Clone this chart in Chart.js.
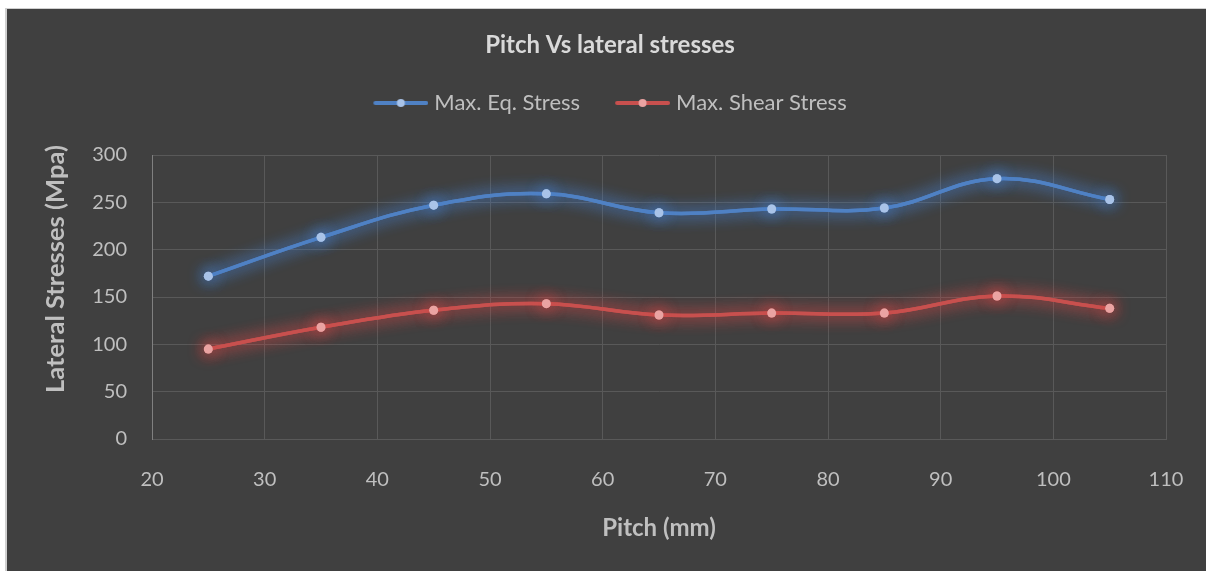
<!DOCTYPE html>
<html>
<head>
<meta charset="utf-8">
<script src="https://cdn.jsdelivr.net/npm/chart.js@4.4.0/dist/chart.umd.min.js"></script>
<style>
  html, body { margin: 0; padding: 0; background: #ffffff; }
  #frame {
    position: absolute; left: 5px; top: 8px;
    border-left: 2px solid #d0d0d0; border-top: 1px solid #cfcfcf;
    background: #404040;
  }
  canvas { display: block; }
</style>
</head>
<body>
<div id="frame"><canvas id="stressChart" width="1199" height="562"></canvas></div>
<script>
const pitch = [25, 35, 45, 55, 65, 75, 85, 95, 105];
const maxEqStress = [172, 213, 247, 259, 239, 243, 244, 275, 253];
const maxShearStress = [95, 118, 136, 143, 131, 133, 133, 151, 138];
const xTicks = [20, 30, 40, 50, 60, 70, 80, 90, 100, 110];
const yTicks = [0, 50, 100, 150, 200, 250, 300];
const yTitle = "Lateral Stresses (Mpa)";

const blue = "#4f81c4";
const blueDot = "#a9c3e8";
const red = "#c8504e";
const redDot = "#eaa3a2";
const textGrey = "#bfbfbf";
const font = "Lato";

// line-with-dot swatch for the legend; the line runs past the box to the right
function swatch(line, dot) {
    const c = document.createElement("canvas");
    c.width = 60; c.height = 12;
    const g = c.getContext("2d");
    g.strokeStyle = line;
    g.lineWidth = 4;
    g.lineCap = "round";
    g.beginPath(); g.moveTo(7, 6); g.lineTo(58, 6); g.stroke();
    g.fillStyle = dot;
    g.beginPath(); g.arc(32.5, 6, 4, 0, Math.PI * 2); g.fill();
    return c;
}
const swatches = [swatch(blue, blueDot), swatch(red, redDot)];

// soft glow around each series: one extra shadowed pass, then the normal draw
const glow = {
    id: "glow",
    beforeDatasetDraw(chart, args) {
        const ctx = chart.ctx;
        ctx.save();
        ctx.shadowColor = args.index === 0 ? "rgba(70,130,210,1)" : "rgba(215,70,70,1)";
        ctx.shadowBlur = 16;
        args.meta.controller.draw();
    },
    afterDatasetDraw(chart) {
        chart.ctx.restore();
    }
};

// rotated y-axis title, sitting a little above the plot's middle
const yAxisTitle = {
    id: "yAxisTitle",
    afterDraw(chart) {
        const ctx = chart.ctx;
        ctx.save();
        ctx.translate(49, chart.chartArea.top + 114);
        ctx.rotate(-Math.PI / 2);
        ctx.font = "bold 25.5px " + font;
        ctx.fillStyle = textGrey;
        ctx.textAlign = "center";
        ctx.textBaseline = "middle";
        ctx.fillText(yTitle, 0, 0);
        ctx.restore();
    }
};

const toXY = (vals) => vals.map((v, i) => ({ x: pitch[i], y: v }));

const ctx = document.getElementById("stressChart").getContext("2d");
const chart = new Chart(ctx, {
    type: "line",
    data: {
        datasets: [{
            label: "Max. Eq. Stress",
            data: toXY(maxEqStress),
            borderColor: blue,
            backgroundColor: blueDot,
            pointBackgroundColor: blueDot,
            pointBorderWidth: 0,
            pointRadius: 4.5,
            borderWidth: 3.5,
            tension: 0.4
        }, {
            label: "Max. Shear Stress",
            data: toXY(maxShearStress),
            borderColor: red,
            backgroundColor: redDot,
            pointBackgroundColor: redDot,
            pointBorderWidth: 0,
            pointRadius: 4.5,
            borderWidth: 3.5,
            tension: 0.4
        }]
    },
    options: {
        responsive: false,
        animation: false,
        layout: { padding: { left: 7, right: 0, top: 0, bottom: 0 } },
        plugins: {
            title: {
                display: true,
                text: "Pitch Vs lateral stresses",
                color: "#d9d9d9",
                font: { family: font, size: 24, weight: "bold", lineHeight: 1 },
                padding: { top: 24, bottom: 0 }
            },
            subtitle: {
                // spacer between the legend and the plot
                display: true,
                text: "",
                weight: 900,
                font: { size: 1, lineHeight: 1 },
                padding: { top: 30, bottom: 0 }
            },
            legend: {
                position: "top",
                labels: {
                    color: textGrey,
                    font: { family: font, size: 22 },
                    usePointStyle: true,
                    pointStyleWidth: 50,
                    padding: 35,
                    generateLabels(c) {
                        const items = Chart.defaults.plugins.legend.labels.generateLabels(c);
                        items.forEach((it, i) => { it.pointStyle = swatches[i]; });
                        return items;
                    }
                }
            },
            tooltip: { enabled: false }
        },
        scales: {
            x: {
                type: "linear",
                min: xTicks[0],
                max: xTicks[xTicks.length - 1],
                afterBuildTicks(scale) { scale.ticks = xTicks.map(v => ({ value: v })); },
                afterFit(scale) {
                    scale.height = 132;
                    scale.paddingLeft = 0;
                    scale.paddingRight = 40;
                },
                grid: { color: "#595959", lineWidth: 1, drawTicks: false },
                border: { color: "#595959" },
                ticks: {
                    color: textGrey,
                    font: { family: font, size: 20 },
                    padding: 29,
                    maxRotation: 0
                },
                title: {
                    display: true,
                    text: "Pitch (mm)",
                    color: textGrey,
                    font: { family: font, size: 24, weight: "bold" },
                    padding: { top: 0, bottom: 28 }
                }
            },
            y: {
                min: yTicks[0],
                max: yTicks[yTicks.length - 1],
                afterBuildTicks(scale) { scale.ticks = yTicks.map(v => ({ value: v })); },
                afterFit(scale) { scale.width = 138; },
                grid: { color: "#595959", lineWidth: 1, drawTicks: false },
                border: { color: "#808080" },
                ticks: {
                    color: textGrey,
                    font: { family: font, size: 20 },
                    padding: 25
                }
            }
        }
    },
    plugins: [glow, yAxisTitle]
});
</script>
</body>
</html>
